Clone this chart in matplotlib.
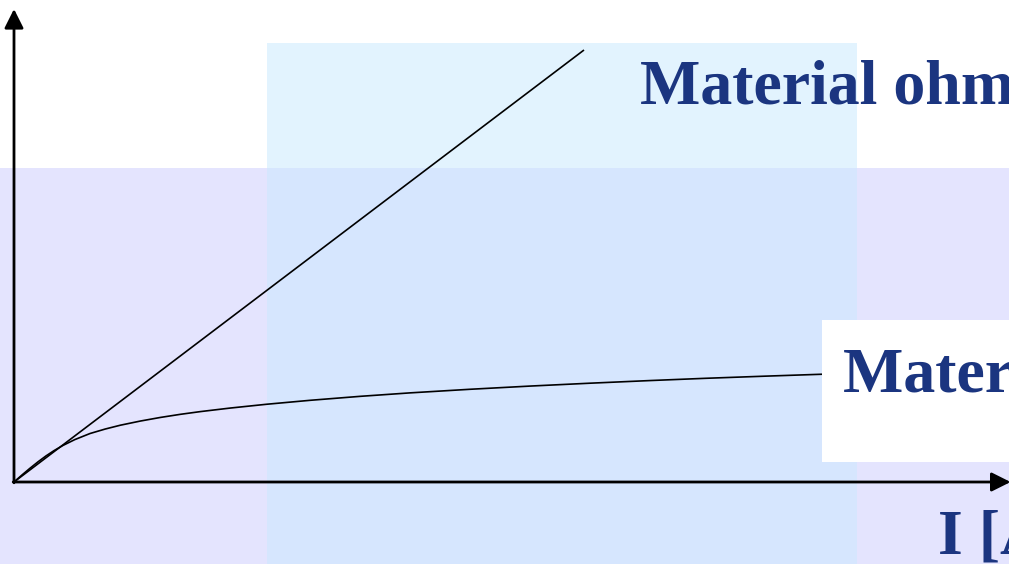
import matplotlib
matplotlib.use("Agg")
import matplotlib.pyplot as plt
from matplotlib.patches import Rectangle

# Data (arbitrary units: current I, voltage V)
I_ohmic = [0.0, 7.125]
V_ohmic = [0.0, 5.40]

I_nonohmic = [0.0, 0.10, 0.20, 0.30, 0.40, 0.50, 0.61, 0.76, 0.95, 1.14, 1.33,
              1.58, 1.83, 2.08, 2.33, 2.70, 3.16, 3.70, 4.33, 4.95, 5.70, 6.45,
              7.20, 7.95, 8.64, 9.39, 10.10]
V_nonohmic = [0.0, 0.088, 0.172, 0.252, 0.326, 0.392, 0.456, 0.530, 0.606, 0.662,
              0.710, 0.762, 0.807, 0.846, 0.880, 0.924, 0.972, 1.021, 1.071, 1.114,
              1.159, 1.199, 1.235, 1.268, 1.296, 1.323, 1.347]

label_ohmic = "Material ohmico"
label_nonohmic = "Material no ohmico"
label_x = "I [A]"

W, H = 1009, 564
fig = plt.figure(figsize=(W / 100, H / 100), dpi=100)
ax = fig.add_axes([0, 0, 1, 1])
ax.set_axis_off()
# 1 unit = 80 px, origin at pixel (14, 482)
ax.set_xlim(-14 / 80, (W - 14) / 80)
ax.set_ylim(-(H - 482) / 80, 482 / 80)

def px(x0, y0, x1, y1, **kw):
    # rectangle in figure-fraction coords from pixel box (top-left origin)
    return Rectangle((x0 / W, 1 - y1 / H), (x1 - x0) / W, (y1 - y0) / H,
                     transform=fig.transFigure, linewidth=0, **kw)

lav = "#E4E4FE"
lblue = "#E2F3FE"
overlap = "#D6E6FE"
ax.add_patch(px(0, 168, W, H, facecolor=lav, zorder=0))
ax.add_patch(px(267, 43, 857, 168, facecolor=lblue, zorder=0.5))
ax.add_patch(px(267, 168, 857, H, facecolor=overlap, zorder=0.5))

# curves
ax.plot(I_ohmic, V_ohmic, color="black", lw=1.2, zorder=3, solid_capstyle="butt")
ax.plot(I_nonohmic, V_nonohmic, color="black", lw=1.2, zorder=3,
        solid_capstyle="butt", solid_joinstyle="round")

# white label box
ax.add_patch(px(822, 320, W, 462, facecolor="white", zorder=4))

# axes arrows
xmax = ax.get_xlim()[1]
ymax = 473 / 80
ax.annotate("", xy=(0, ymax), xytext=(0, -0.01), annotation_clip=False,
            arrowprops=dict(arrowstyle="-|>", mutation_scale=29, lw=2,
                            color="black", shrinkA=0, shrinkB=0), zorder=5)
ax.annotate("", xy=(xmax + 0.02, 0), xytext=(-0.01, 0), annotation_clip=False,
            arrowprops=dict(arrowstyle="-|>", mutation_scale=29, lw=2,
                            color="black", shrinkA=0, shrinkB=0), zorder=5)

tc = "#1B3580"
font = dict(family=["Liberation Serif", "DejaVu Serif"], weight="bold",
            size=46, color=tc, zorder=6)
fig.text(640 / W, 1 - 103 / H, label_ohmic, ha="left", va="baseline", **font)
fig.text(843 / W, 1 - 392 / H, label_nonohmic, ha="left", va="baseline", **font)
fig.text(938 / W, 1 - 553 / H, label_x, ha="left", va="baseline", **font)

fig.savefig("out.png", dpi=100)
